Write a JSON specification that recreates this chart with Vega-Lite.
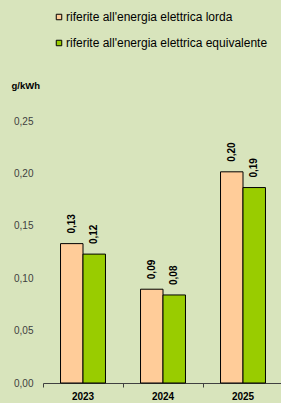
{
  "$schema": "https://vega.github.io/schema/vega-lite/v6.json",
  "autosize": "none",
  "width": 240,
  "height": 262,
  "padding": {"left": 43, "top": 121, "right": 0, "bottom": 20},
  "background": "#D8E4BC",
  "data": {"values": [
    {"anno": "2023", "serie": "riferite all'energia elettrica lorda", "valore": 0.133, "etichetta": "0,13"},
    {"anno": "2023", "serie": "riferite all'energia elettrica equivalente", "valore": 0.123, "etichetta": "0,12"},
    {"anno": "2024", "serie": "riferite all'energia elettrica lorda", "valore": 0.0895, "etichetta": "0,09"},
    {"anno": "2024", "serie": "riferite all'energia elettrica equivalente", "valore": 0.084, "etichetta": "0,08"},
    {"anno": "2025", "serie": "riferite all'energia elettrica lorda", "valore": 0.2015, "etichetta": "0,20"},
    {"anno": "2025", "serie": "riferite all'energia elettrica equivalente", "valore": 0.1865, "etichetta": "0,19"}
  ]},
  "encoding": {
    "x": {"field": "anno", "type": "nominal", "scale": {"paddingInner": 0, "paddingOuter": 0},
      "axis": {"title": null, "labelAngle": 0, "labelFont": "Liberation Sans", "labelFontWeight": "bold", "labelFontSize": 10, "labelColor": "#000000", "labelPadding": 4, "bandPosition": 0, "tickSize": 4, "tickColor": "#404040", "domainColor": "#404040", "grid": false}},
    "xOffset": {"field": "serie", "type": "nominal", "sort": ["riferite all'energia elettrica lorda", "riferite all'energia elettrica equivalente"], "scale": {"paddingOuter": 0.78, "paddingInner": 0}},
    "y": {"field": "valore", "type": "quantitative", "scale": {"domain": [0, 0.25], "nice": false},
      "axis": {"title": "g/kWh", "titleAngle": 0, "titleX": -32, "titleY": -36, "titleAlign": "left", "titleBaseline": "middle", "titleFont": "Liberation Sans", "titleFontSize": 9.5, "titleFontWeight": "bold", "titleColor": "#000000",
        "values": [0, 0.05, 0.1, 0.15, 0.2, 0.25], "labelExpr": "replace(format(datum.value, '.2f'), '.', ',')", "domain": false, "ticks": false, "grid": false, "labelPadding": 10, "labelFont": "Liberation Sans", "labelFontSize": 10, "labelColor": "#404040"}}
  },
  "layer": [
    {
      "mark": {"type": "bar", "stroke": "#000000", "strokeWidth": 1},
      "encoding": {
        "color": {"field": "serie", "type": "nominal", "sort": ["riferite all'energia elettrica lorda", "riferite all'energia elettrica equivalente"],
          "scale": {"domain": ["riferite all'energia elettrica lorda", "riferite all'energia elettrica equivalente"], "range": ["#FFCC99", "#99CC00"]},
          "legend": {"title": null, "orient": "none", "legendX": 10, "legendY": -110, "padding": 0, "symbolType": "square", "symbolSize": 30, "symbolStrokeColor": "#000000", "symbolStrokeWidth": 1, "labelFont": "Liberation Sans", "labelFontSize": 12, "labelColor": "#000000", "labelOffset": 1, "labelLimit": 300, "rowPadding": 14, "symbolOpacity": 1}}
      }
    },
    {
      "mark": {"type": "text", "angle": -90, "align": "left", "baseline": "middle", "dx": 10, "font": "Liberation Sans", "fontSize": 10, "fontWeight": "bold", "color": "#000000"},
      "encoding": {"text": {"field": "etichetta"}}
    }
  ],
  "config": {"view": {"stroke": null}}
}
